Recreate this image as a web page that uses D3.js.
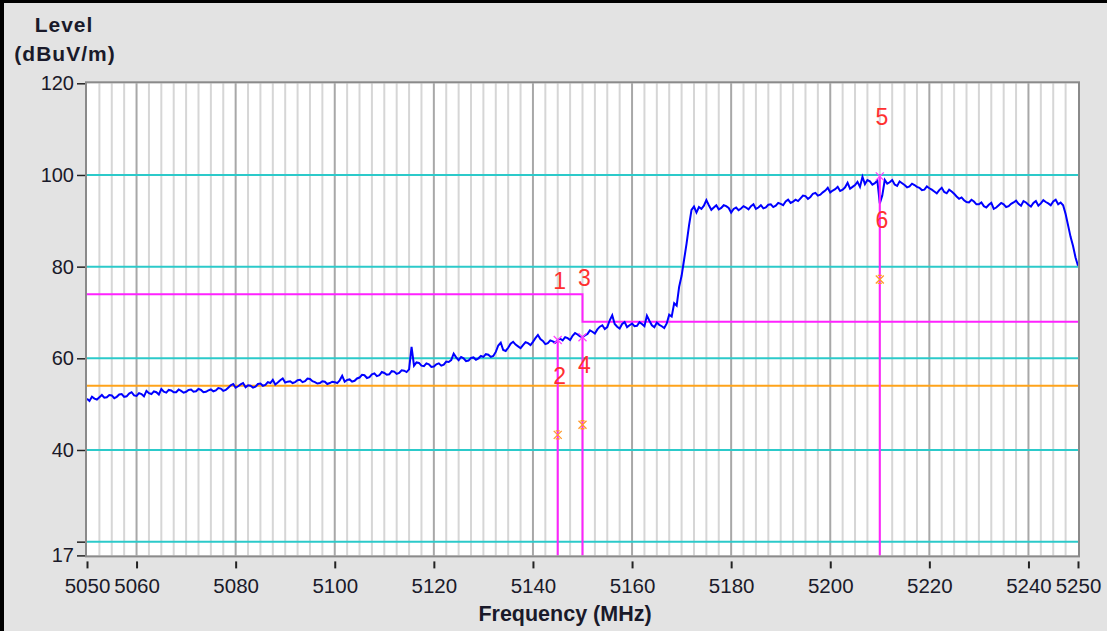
<!DOCTYPE html>
<html><head><meta charset="utf-8">
<script src="https://cdn.jsdelivr.net/npm/d3@7"></script>
<style>
html,body{margin:0;padding:0;background:#e3e3e3;}
svg{display:block;}
</style></head>
<body>
<svg id="c" width="1107" height="631"></svg>
<script>
// ---- data ----
const yTickValues = [120, 100, 80, 60, 40, 20, 17];
const yTickLabels = ["120", "100", "80", "60", "40", "", "17"];
const xTickValues = [5050, 5060, 5080, 5100, 5120, 5140, 5160, 5180, 5200, 5220, 5240, 5250];
const refLevels = [20, 40, 60, 80, 100];
const avgLimit = 54;
const limitFreqs = [5050, 5150, 5150, 5250];
const limitLevels = [74, 74, 68, 68];
const markerIds = ["1", "2", "3", "4", "5", "6"];
const markerFreqs = [5145, 5145, 5150, 5150, 5210, 5210];
const markerLevels = [64.0, 43.3, 64.6, 45.5, 99.7, 77.2];
const markerTypes = ["PK", "AV", "PK", "AV", "PK", "AV"];
// sweep: 5050 MHz to 5250 MHz, 0.5 MHz step
const traceStartMHz = 5050;
const traceStepMHz = 0.5;
const traceLevels = [
51.2,50.7,51.6,51.2,51.0,51.5,52.0,51.4,51.5,52.0,51.9,51.3,51.6,52.1,52.2,51.6,51.7,52.3,52.6,51.9,51.8,
52.4,52.2,51.7,52.9,52.4,52.2,52.8,52.6,52.1,53.3,52.7,52.5,53.1,53.0,52.6,52.6,53.2,52.9,52.5,52.7,
53.1,53.2,52.7,52.8,53.3,53.1,52.6,52.7,53.0,53.2,52.8,53.0,53.5,53.4,52.9,53.1,53.6,54.1,54.4,53.6,
53.9,54.3,54.6,53.7,54.1,54.0,53.6,53.8,54.4,54.5,54.0,54.2,54.8,54.6,55.3,54.3,54.7,55.2,55.6,54.7,
54.9,55.0,54.6,54.8,55.2,55.3,54.8,55.0,55.6,55.5,55.0,54.8,54.5,54.6,55.0,54.9,54.4,54.6,54.9,54.8,
54.6,55.2,56.2,54.9,55.3,55.4,54.9,55.1,55.6,55.8,56.4,56.3,55.7,55.9,56.5,56.7,56.1,56.3,57.0,56.8,
56.4,56.5,57.2,57.1,56.6,56.8,57.4,57.3,57.0,57.6,62.5,58.4,59.1,59.0,58.4,58.3,58.9,58.7,58.1,58.2,
58.7,58.9,58.4,58.6,59.3,59.2,59.6,61.0,60.2,59.6,60.3,60.0,59.4,59.5,60.1,60.2,59.7,60.0,60.5,60.3,
60.9,60.8,60.3,60.5,61.4,62.8,63.4,61.8,61.6,62.3,63.2,63.6,63.0,62.6,62.2,62.9,63.5,63.3,62.9,63.6,
64.4,65.1,64.2,63.8,63.1,63.3,63.9,63.7,63.4,64.0,64.3,63.9,64.6,64.4,64.0,64.9,65.5,65.2,64.8,64.6,
65.0,65.3,66.1,65.8,65.4,66.3,66.9,67.2,66.4,66.8,68.3,69.4,67.5,66.9,66.5,67.5,67.9,66.8,67.2,67.6,
67.0,67.1,67.9,67.5,67.0,69.3,68.2,67.2,66.8,67.8,67.3,67.0,66.6,67.6,69.5,69.1,72.0,71.5,75.6,78.0,
81.5,85.0,89.0,92.4,93.1,91.8,93.0,92.6,93.3,94.5,93.4,92.4,92.9,93.4,92.5,92.8,93.4,93.2,92.8,91.8,
92.6,92.9,92.3,92.7,93.2,92.9,92.5,93.2,93.6,92.6,92.9,93.4,92.7,92.9,93.5,93.6,93.0,93.3,93.9,93.7,
93.4,94.2,94.6,93.9,94.2,94.6,94.3,94.9,95.5,95.4,94.8,95.2,95.9,96.1,95.5,95.7,96.2,96.6,97.2,96.2,
96.6,96.9,97.4,96.5,96.8,97.3,98.3,97.0,97.4,97.8,98.5,97.4,99.6,98.0,98.9,98.6,97.9,98.2,98.8,93.8,
95.5,98.9,98.1,98.4,98.9,97.9,97.6,98.6,98.2,97.8,97.3,97.5,98.1,97.8,97.4,97.2,96.7,96.8,97.5,97.1,
96.8,96.4,96.0,96.7,97.2,96.3,96.0,96.8,96.4,95.9,95.3,94.8,95.1,94.5,94.1,94.0,94.6,94.2,93.6,93.6,
94.0,93.2,92.9,93.5,93.9,92.6,92.9,93.4,93.9,93.6,93.0,93.2,93.7,94.0,94.4,93.7,93.3,94.3,94.0,93.5,
93.1,93.9,94.3,93.3,93.8,94.5,94.1,93.8,93.4,94.2,94.6,93.6,94.0,93.4,91.5,89.0,86.5,84.5,82.0,80.2];

// ---- layout ----
const L = 87, R = 1078, T = 83.3, B = 555.4;
const FONT = "Liberation Sans, Arial, sans-serif";
const svg = d3.select("#c");
const x = d3.scaleLinear().domain([5050, 5250]).range([L, R]);
const y = d3.scaleLinear().domain([17, 120]).range([B, T]);

// background and border
svg.append("rect").attr("x", 0).attr("y", 0).attr("width", 1107).attr("height", 631).attr("fill", "#e3e3e3");
svg.append("rect").attr("x", 0).attr("y", 0).attr("width", 4).attr("height", 631).attr("fill", "#000");
svg.append("rect").attr("x", 0).attr("y", 0).attr("width", 1107).attr("height", 3).attr("fill", "#000");

// plot background
svg.append("rect").attr("x", L).attr("y", T).attr("width", R - L).attr("height", B - T).attr("fill", "#fff");

// vertical grid
const minorGrid = d3.range(5052.5, 5250, 2.5).filter(f => !xTickValues.includes(f));
svg.append("g").selectAll("line").data(minorGrid).join("line")
  .attr("x1", d => x(d)).attr("x2", d => x(d)).attr("y1", T).attr("y2", B)
  .attr("stroke", "#d6d6d6").attr("stroke-width", 2);
svg.append("g").selectAll("line").data(xTickValues.filter(v => v > 5050 && v < 5250)).join("line")
  .attr("x1", d => x(d)).attr("x2", d => x(d)).attr("y1", T).attr("y2", B)
  .attr("stroke", "#a8a8a8").attr("stroke-width", 2);

// reference lines
svg.append("g").selectAll("line").data(refLevels).join("line")
  .attr("x1", L).attr("x2", R).attr("y1", d => y(d)).attr("y2", d => y(d))
  .attr("stroke", "#2ccaca").attr("stroke-width", 2);

// average limit
svg.append("line").attr("x1", L).attr("x2", R).attr("y1", y(avgLimit)).attr("y2", y(avgLimit))
  .attr("stroke", "#ffa31a").attr("stroke-width", 2);

// peak limit
const limLine = d3.line().x((d, i) => x(limitFreqs[i])).y((d, i) => y(limitLevels[i]));
svg.append("path").datum(limitFreqs).attr("d", limLine).attr("fill", "none")
  .attr("stroke", "#ff22ff").attr("stroke-width", 2);

// trace
const trLine = d3.line().x((d, i) => x(traceStartMHz + i * traceStepMHz)).y(d => y(d));
svg.append("path").datum(traceLevels).attr("d", trLine).attr("fill", "none")
  .attr("stroke", "#0000ff").attr("stroke-width", 2).attr("stroke-linejoin", "miter");

// markers
const idx = d3.range(markerIds.length);
const pk = idx.filter(i => markerTypes[i] === "PK");
const av = idx.filter(i => markerTypes[i] === "AV");
svg.append("g").selectAll("line").data(pk).join("line")
  .attr("x1", i => x(markerFreqs[i])).attr("x2", i => x(markerFreqs[i]))
  .attr("y1", i => y(markerLevels[i])).attr("y2", B)
  .attr("stroke", "#ff22ff").attr("stroke-width", 2);
const pkG = svg.append("g").selectAll("g").data(pk).join("g")
  .attr("transform", i => `translate(${x(markerFreqs[i])},${y(markerLevels[i])})`);
pkG.append("path").attr("d", "M-4,-4L4,4M-4,4L4,-4").attr("stroke", "#ff44ff").attr("stroke-width", 1.3);
const avG = svg.append("g").selectAll("g").data(av).join("g")
  .attr("transform", i => `translate(${x(markerFreqs[i])},${y(markerLevels[i])})`);
avG.append("path").attr("d", "M-4,-4L4,4M-4,4L4,-4M-2,-4L2,-4M-2,4L2,4").attr("stroke", "#ff9a2a").attr("stroke-width", 1.3);
svg.append("g").selectAll("text").data(idx).join("text")
  .attr("x", i => x(markerFreqs[i]) + 2).attr("y", i => y(markerLevels[i] + 13))
  .attr("dy", "0.36em").attr("text-anchor", "middle")
  .attr("font-family", FONT).attr("font-size", 23)
  .attr("fill", "#ff3030").text(i => markerIds[i]);

// frame
svg.append("rect").attr("x", L - 1).attr("y", T - 1).attr("width", R - L + 2).attr("height", B - T + 2)
  .attr("fill", "none").attr("stroke", "#8a8a8a").attr("stroke-width", 2);

// axes
const yAxis = d3.axisLeft(y).tickValues(yTickValues).tickSize(8).tickPadding(3)
  .tickFormat((d, i) => yTickLabels[i]);
const gy = svg.append("g").attr("transform", `translate(${L - 2},0)`).call(yAxis);
gy.select(".domain").remove();
gy.selectAll("line").attr("stroke", "#222").attr("stroke-width", 1.5);
gy.selectAll("text").attr("font-family", FONT).attr("font-size", 20).attr("fill", "#1a1a2a");

const xAxis = d3.axisBottom(x).tickValues(xTickValues).tickSize(7).tickPadding(10).tickFormat(d3.format("d"));
const gx = svg.append("g").attr("transform", `translate(0,${B + 6})`).call(xAxis);
gx.select(".domain").remove();
gx.selectAll("line").attr("stroke", "#222").attr("stroke-width", 2);
gx.selectAll("text").attr("font-family", FONT).attr("font-size", 20.5).attr("fill", "#1a1a2a");

// titles
svg.append("text").attr("x", 64).attr("y", 32).attr("text-anchor", "middle")
  .attr("font-family", FONT).attr("font-weight", "bold").attr("font-size", 21)
  .attr("letter-spacing", 1).attr("fill", "#1a1a2a").text("Level");
svg.append("text").attr("x", 65).attr("y", 61).attr("text-anchor", "middle")
  .attr("font-family", FONT).attr("font-weight", "bold").attr("font-size", 21)
  .attr("letter-spacing", 1).attr("fill", "#1a1a2a").text("(dBuV/m)");
svg.append("text").attr("x", 565).attr("y", 621).attr("text-anchor", "middle")
  .attr("font-family", FONT).attr("font-weight", "bold").attr("font-size", 21.5)
  .attr("fill", "#1a1a2a").text("Frequency (MHz)");
</script>
</body></html>
